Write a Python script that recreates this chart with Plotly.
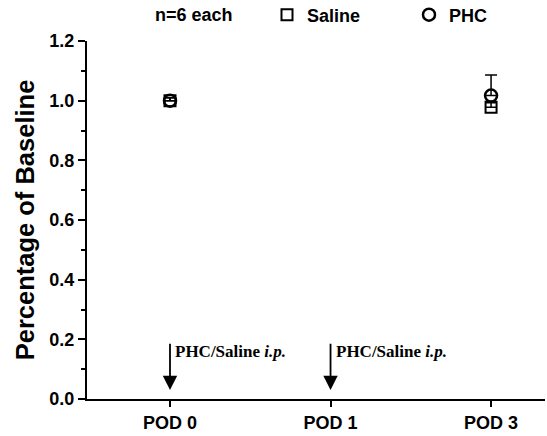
import plotly.graph_objects as go

categories = ["POD 0", "POD 1", "POD 3"]
x_pos = [0, 1, 2]
saline_vals = [1.0, None, 0.978]
saline_err = [0.01, 0, 0.015]
phc_vals = [1.0, None, 1.017]
phc_err = [0.01, 0, 0.069]
y_ticks = [0.0, 0.2, 0.4, 0.6, 0.8, 1.0, 1.2]
y_ticklabels = ["0.0", "0.2", "0.4", "0.6", "0.8", "1.0", "1.2"]
arrow_label = "PHC/Saline <i>i.p.</i>"
arrow_x = [0, 1]
note_text = "n=6 each"

FONT = "Liberation Sans, Arial, sans-serif"
L, R, T, B = 87, 2, 41, 37
PW, PH = 547 - L - R, 436 - T - B

fig = go.Figure()
fig.add_trace(go.Scatter(
    x=x_pos, y=saline_vals, mode="markers", name="<b>Saline</b>",
    marker=dict(symbol="square-open", size=11, color="black", line=dict(width=2, color="black")),
    error_y=dict(type="data", symmetric=False, array=saline_err, arrayminus=[0, 0, 0],
                 color="black", thickness=1.5, width=6),
))
fig.add_trace(go.Scatter(
    x=x_pos, y=phc_vals, mode="markers", name="<b>PHC</b>",
    marker=dict(symbol="circle-open", size=12, color="black", line=dict(width=2.5, color="black")),
    error_y=dict(type="data", symmetric=False, array=phc_err, arrayminus=[0, 0, 0],
                 color="black", thickness=1.5, width=6),
))

for xa in arrow_x:
    fig.add_annotation(x=xa, y=0.03, ax=xa, ay=0.19, xref="x", yref="y", axref="x", ayref="y",
                       showarrow=True, arrowhead=2, arrowsize=1.6, arrowwidth=1.8,
                       arrowcolor="black", text="")
    fig.add_annotation(x=xa + 0.02, y=0.158, xref="x", yref="y", text="<b>" + arrow_label + "</b>",
                       showarrow=False, xanchor="left", yanchor="middle",
                       font=dict(family="Liberation Serif, Times New Roman, serif", size=17, color="black"))

fig.add_annotation(x=(153 - L) / PW, y=(399 - 15) / PH, xref="paper", yref="paper",
                   text="<b>" + note_text + "</b>", showarrow=False, xanchor="left", yanchor="middle",
                   font=dict(family=FONT, size=18, color="black"))

fig.update_layout(
    width=547, height=436,
    margin=dict(l=L, r=R, t=T, b=B, autoexpand=False),
    plot_bgcolor="white", paper_bgcolor="white",
    font=dict(family=FONT, color="black"),
    showlegend=True,
    legend=dict(orientation="h", x=(267 - L) / PW, y=(399 - 15) / PH, xanchor="left", yanchor="middle",
                font=dict(family=FONT, size=18, color="black"), entrywidth=97, entrywidthmode="pixels",
                itemwidth=30, bgcolor="rgba(0,0,0,0)"),
    xaxis=dict(range=[-0.517, 2.336], tickvals=x_pos, ticktext=["<b>%s</b>" % c for c in categories],
               showline=True, linecolor="black", linewidth=2, ticks="outside", ticklen=6, tickwidth=2,
               tickcolor="black", showgrid=False, zeroline=False, automargin=False,
               tickfont=dict(family=FONT, size=18, color="black")),
    yaxis=dict(range=[0, 1.2], tickvals=y_ticks, ticktext=["<b>%s</b>" % t for t in y_ticklabels],
               showline=True, linecolor="black", linewidth=2, ticks="outside", ticklen=7, tickwidth=2,
               tickcolor="black", showgrid=False, zeroline=False, automargin=False,
               minor=dict(dtick=0.1, ticks="outside", ticklen=4, tickwidth=1.5, tickcolor="black", showgrid=False),
               tickfont=dict(family=FONT, size=18, color="black"),
               title=dict(text="<b>Percentage of Baseline</b>", font=dict(family=FONT, size=25.5, color="black"),
                          standoff=7)),
)

fig.write_html("out.html", config={"displayModeBar": False},
               post_script="document.body.style.margin='0';document.body.style.overflow='hidden';")
